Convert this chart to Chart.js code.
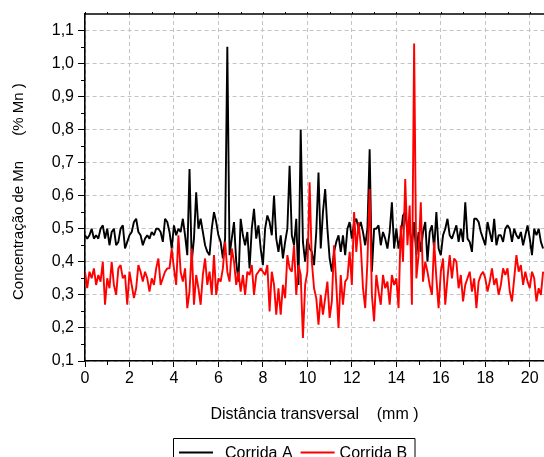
<!DOCTYPE html>
<html>
<head>
<meta charset="utf-8">
<style>
  html, body { margin: 0; padding: 0; background: #ffffff; }
  #wrap { width: 544px; height: 457px; position: relative; overflow: hidden; }
  canvas { display: block; }
</style>
</head>
<body>
<div id="wrap"><canvas id="chart" width="544" height="457"></canvas></div>
<script src="https://cdn.jsdelivr.net/npm/chart.js@4.4.1/dist/chart.umd.min.js"></script>
<script>
// ---------------- data ----------------
const seriesNames = ['Corrida A', 'Corrida B'];
const sampleStartMm = 0;
const sampleStepMm = 0.1;

// Corrida A (black)
const corridaA = [
  0.48,0.47,0.48,0.50,0.47,0.48,0.47,0.50,0.51,0.47,
  0.50,0.45,0.49,0.50,0.45,0.46,0.50,0.51,0.44,0.46,
  0.48,0.49,0.52,0.53,0.49,0.48,0.45,0.47,0.48,0.47,
  0.49,0.48,0.50,0.50,0.49,0.46,0.53,0.52,0.49,0.44,
  0.51,0.48,0.50,0.49,0.53,0.48,0.42,0.68,0.40,0.47,
  0.61,0.50,0.53,0.49,0.45,0.43,0.42,0.50,0.55,0.52,
  0.48,0.46,0.41,0.47,1.05,0.42,0.47,0.52,0.40,0.34,
  0.53,0.48,0.45,0.49,0.38,0.50,0.56,0.47,0.51,0.44,
  0.39,0.50,0.54,
  0.52,0.48,0.60,0.47,0.43,0.48,0.41,
  0.46,0.50,0.69,0.48,0.45,0.53,0.33,0.80,0.46,0.40,
  0.47,0.44,0.43,0.39,0.49,0.67,0.44,0.55,0.62,0.50,
  0.41,0.37,0.43,0.46,0.48,0.43,0.48,0.42,0.50,0.52,
  0.47,0.52,0.53,0.50,0.52,
  0.49,0.45,0.50,0.74,0.37,
  0.50,0.50,0.51,0.45,0.49,0.47,0.44,0.49,0.58,0.44,
  0.50,0.44,0.48,0.54,0.55,0.49,0.50,0.45,0.52,0.42,
  0.49,0.43,0.49,0.52,0.40,0.49,0.51,0.44,0.55,0.44,
  0.42,0.48,0.50,0.53,0.48,0.47,
  0.49,0.51,0.46,0.50,
  0.46,0.58,0.47,0.46,0.43,0.53,0.53,0.52,0.49,0.47,
  0.45,0.52,0.49,0.46,0.53,0.45,0.48,0.48,0.46,0.50,
  0.51,0.50,0.46,0.50,0.48,0.47,0.49,0.45,0.48,0.51,
  0.47,0.42,0.50,0.48,0.50,0.46,0.44
];

// Corrida B (red)
const corridaB = [
  0.37,0.32,0.37,0.35,0.38,0.33,0.36,0.34,0.40,0.27,
  0.35,0.32,0.40,0.33,0.30,0.38,0.39,0.35,0.36,0.27,
  0.37,0.33,0.29,0.32,0.39,0.37,0.34,0.37,0.35,0.31,
  0.35,0.33,0.38,0.41,0.33,0.35,0.37,0.38,0.38,0.44,
  0.38,0.33,0.48,0.37,0.34,0.38,0.26,0.31,0.44,0.27,
  0.36,0.32,0.27,0.36,0.41,0.33,0.37,0.30,0.42,0.30,
  0.35,0.34,0.38,0.46,0.37,0.34,0.44,0.40,0.33,0.37,
  0.31,0.36,0.30,0.37,0.36,0.39,0.30,0.36,0.37,0.38,
  0.37,0.36,0.39,0.25,0.37,0.33,0.24,0.32,0.24,0.33,
  0.29,0.42,0.38,0.37,0.45,0.30,0.39,0.36,0.17,0.33,
  0.37,0.64,0.40,0.32,0.29,0.21,0.30,0.24,0.29,0.34,
  0.23,0.28,0.45,0.33,0.20,0.36,0.27,0.34,0.35,0.43,
  0.33,0.55,0.43,0.52,0.45,
  0.32,0.26,0.40,0.62,0.30,
  0.22,0.36,0.31,0.27,0.36,0.32,0.34,0.27,0.36,0.33,
  0.35,0.26,0.51,0.40,0.65,0.45,0.57,0.27,1.06,0.35,
  0.42,0.58,0.34,0.40,0.37,0.33,0.30,0.46,0.35,0.26,
  0.37,0.41,0.27,0.35,0.42,0.35,
  0.41,0.40,0.32,0.36,
  0.28,0.33,0.35,0.37,0.31,0.35,0.26,0.34,0.36,0.37,
  0.35,0.31,0.34,0.38,0.33,0.35,0.30,0.33,0.38,0.36,
  0.38,0.31,0.28,0.35,0.42,0.37,0.39,0.33,0.37,0.34,
  0.32,0.37,0.35,0.28,0.32,0.30,0.37
];

const xTickValues = [0, 2, 4, 6, 8, 10, 12, 14, 16, 18, 20];
const xMinorTicks = [1, 3, 5, 7, 9, 11, 13, 15, 17, 19];
const yTickValues = [0.1, 0.2, 0.3, 0.4, 0.5, 0.6, 0.7, 0.8, 0.9, 1.0, 1.1];
const yMinorTicks = [0.15, 0.25, 0.35, 0.45, 0.55, 0.65, 0.75, 0.85, 0.95, 1.05];
const xRange = [0, 20.64];
const yRange = [0.1, 1.149];
const xTitle = 'Distância transversal    (mm )';
const yTitle = 'Concentração de Mn      (% Mn )  ';
const seriesColors = ['#000000', '#ff0000'];

// ---------------- build ----------------
const FONT = "'Liberation Sans', Arial, Helvetica, sans-serif";
function toPoints(values) {
  return values.map((v, i) => ({ x: +(sampleStartMm + i * sampleStepMm).toFixed(2), y: v }));
}
const fmtComma = v => v.toFixed(1).replace('.', ',');

const decor = {
  id: 'decor',
  afterDraw(chart) {
    const { ctx, chartArea: a, scales } = chart;
    const x = scales.x, y = scales.y;
    ctx.save();
    ctx.strokeStyle = '#000';
    ctx.lineWidth = 1;
    ctx.setLineDash([]);
    const seg = (x1, y1, x2, y2) => { ctx.beginPath(); ctx.moveTo(x1, y1); ctx.lineTo(x2, y2); ctx.stroke(); };
    xMinorTicks.forEach(v => { const p = Math.round(x.getPixelForValue(v)) + 0.5; seg(p, a.bottom, p, a.bottom + 4); });
    yMinorTicks.forEach(v => { const p = Math.round(y.getPixelForValue(v)) + 0.5; seg(a.left - 4, p, a.left, p); });
    // top ticks
    xTickValues.concat(xMinorTicks).forEach(v => { const p = Math.round(x.getPixelForValue(v)) + 0.5; seg(p, a.top - 2, p, a.top); });
    // top border
    ctx.lineWidth = 1.6;
    seg(a.left - 0.8, a.top, a.right, a.top);

    // legend box
    ctx.lineWidth = 1;
    ctx.strokeStyle = '#000';
    const bx = 173.5, by = 438.5, bw = 241.5;
    ctx.beginPath();
    ctx.moveTo(bx, 460); ctx.lineTo(bx, by); ctx.lineTo(bx + bw, by); ctx.lineTo(bx + bw, 460);
    ctx.stroke();
    ctx.font = '16px ' + FONT;
    ctx.textBaseline = 'alphabetic';
    ctx.textAlign = 'left';
    let cx = bx + 5.5;
    const ly = 452.5;
    chart.data.datasets.forEach((ds, i) => {
      ctx.strokeStyle = ds.borderColor;
      ctx.lineWidth = 1.8;
      seg(cx, ly, cx + 34, ly);
      const tx = cx + 34 + (i === 0 ? 12 : 5);
      ctx.fillStyle = '#000';
      ctx.fillText(ds.label, tx, 457.5);
      cx = tx + ctx.measureText(ds.label).width + 8;
    });
    ctx.restore();
  }
};

new Chart(document.getElementById('chart'), {
  type: 'line',
  data: {
    datasets: [
      { label: seriesNames[0], data: toPoints(corridaA), borderColor: seriesColors[0], backgroundColor: seriesColors[0], order: 1 },
      { label: seriesNames[1], data: toPoints(corridaB), borderColor: seriesColors[1], backgroundColor: seriesColors[1], order: 0 }
    ]
  },
  options: {
    responsive: false,
    animation: false,
    devicePixelRatio: 1,
    layout: { padding: { top: 14, right: 0, bottom: 0, left: 0 } },
    elements: {
      point: { radius: 0, hoverRadius: 0 },
      line: { borderWidth: 1.9, tension: 0, borderJoinStyle: 'bevel', fill: false }
    },
    plugins: { legend: { display: false }, tooltip: { enabled: false } },
    events: [],
    scales: {
      x: {
        type: 'linear',
        min: xRange[0], max: xRange[1],
        afterBuildTicks: s => { s.ticks = xTickValues.map(v => ({ value: v })); },
        afterFit: s => { s.height = 96; },
        ticks: { color: '#000', font: { family: FONT, size: 16 }, padding: 2, maxRotation: 0, autoSkip: false, callback: v => String(v) },
        grid: { color: '#c4c4c4', lineWidth: 1, drawTicks: true, tickLength: 6, tickColor: '#000', tickWidth: 1 },
        border: { display: true, color: '#000', width: 1.6, dash: [4, 3] },
        title: { display: true, text: xTitle, color: '#000', font: { family: FONT, size: 16 }, padding: { top: 0, bottom: 33 } }
      },
      y: {
        type: 'linear',
        min: yRange[0], max: yRange[1],
        afterBuildTicks: s => { s.ticks = yTickValues.map(v => ({ value: v })); },
        afterFit: s => { s.width = 85; },
        ticks: { color: '#000', font: { family: FONT, size: 16 }, padding: 4, callback: v => fmtComma(v) },
        grid: { color: '#c4c4c4', lineWidth: 1, drawTicks: true, tickLength: 7, tickColor: '#000', tickWidth: 1 },
        border: { display: true, color: '#000', width: 1.6, dash: [4, 3] },
        title: { display: true, text: yTitle, color: '#000', font: { family: FONT, size: 15 }, padding: { top: 10, bottom: 0 } }
      }
    }
  },
  plugins: [decor]
});
</script>
</body>
</html>
